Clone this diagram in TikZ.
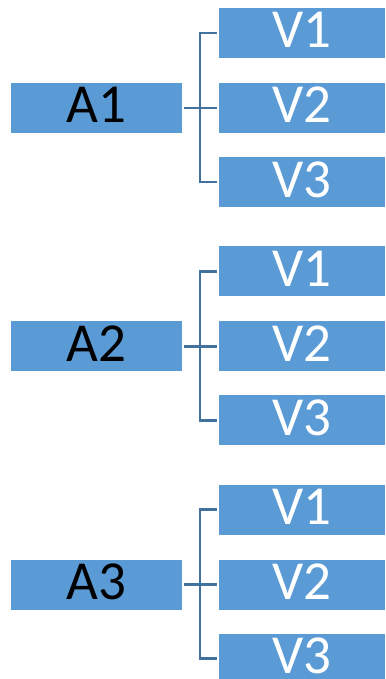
\documentclass[tikz,border=0pt]{standalone}
\usepackage{fontspec}
\setmainfont{Carlito}
\definecolor{boxblue}{HTML}{5B9BD5}
\definecolor{linkblue}{HTML}{41719C}
\tikzset{
  x=1pt, y=-1pt,
  abox/.style={fill=boxblue, inner sep=0pt, minimum width=171pt, minimum height=50pt,
    text=black, font=\fontsize{55}{55}\selectfont, text height=35pt, text depth=5pt},
  vbox/.style={fill=boxblue, inner sep=0pt, minimum width=166pt, minimum height=50pt,
    text=white, font=\fontsize{55}{55}\selectfont, text height=35pt, text depth=5pt},
  link/.style={draw=linkblue, line width=2.4pt}
}
\begin{document}
\begin{tikzpicture}
\useasboundingbox (0,0) rectangle (385,679);
\foreach \g/\off in {1/0, 2/238.3, 3/476.6} {
  \node[abox] (a\g) at (96.5, 108+\off) {A\g};
  \node[vbox] (v\g1) at (302, 33+\off) {V1};
  \node[vbox] (v\g2) at (302, 108+\off) {V2};
  \node[vbox] (v\g3) at (302, 182+\off) {V3};
  \coordinate (s\g) at (200, 108+\off);
  \draw[link] ([xshift=2pt]a\g.east) -- ([xshift=-2pt]v\g2.west);
  \draw[link] ([xshift=-2pt]v\g1.west) -| (s\g) |- ([xshift=-2pt]v\g3.west);
}
\end{tikzpicture}
\end{document}
